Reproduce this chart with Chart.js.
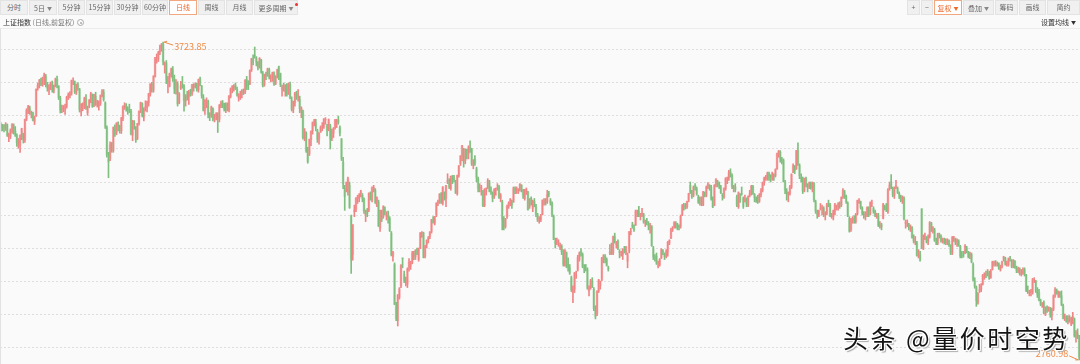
<!DOCTYPE html>
<html>
<head>
<meta charset="utf-8">
<script src="https://cdn.jsdelivr.net/npm/chart.js@4.4.0/dist/chart.umd.min.js"></script>
<style>
  body { margin: 0; width: 1080px; height: 364px; overflow: hidden; position: relative;
         background: #fafafa; font-family: "Noto Sans CJK SC", "Noto Sans", sans-serif; }
  #kline { position: absolute; left: 0; top: 0; }
  .btn { position: absolute; top: 0; height: 15px; box-sizing: border-box; font-size: 7px; line-height: 13px;
         color: #666; background: #f0f0f0; border: 1px solid #e3e3e3; text-align: center; white-space: nowrap; }
  .btn.on { background: #fff; border-color: #f2a77e; color: #ee6a2c; }
  .caret { font-size: 5px; color: #888; margin-left: 2px; vertical-align: 1px; }
  .on .caret { color: #ee6a2c; }
  .dot { position: absolute; left: 40px; top: 2px; width: 3px; height: 3px; border-radius: 2px; background: #f03030; }
  .info { position: absolute; top: 15px; font-size: 7px; line-height: 14px; color: #333; white-space: nowrap; }
  .gear { display: inline-block; width: 5px; height: 5px; border: 1px solid #aaa; border-radius: 50%;
          margin-left: 3px; vertical-align: -1px; position: relative; }
  .gear::after { content: ""; position: absolute; left: 1.5px; top: 1.5px; width: 2px; height: 2px; border-radius: 1px; background: #aaa; }
  .sep { position: absolute; left: 0; top: 28px; width: 1080px; height: 1px; background: #ececec; }
  .edge { position: absolute; left: 0; top: 28px; width: 1px; height: 336px; background: #e2e2e2; }
  .mark { position: absolute; left: 843px; top: 323px; font-size: 25px; line-height: 28px; letter-spacing: 2.5px;
          color: #141414; white-space: nowrap;
          text-shadow: -1px -1px 0 #fff, 1px -1px 0 #fff, -1px 1px 0 #fff, 1px 1px 0 #fff, 2px 2px 1px #aaa; }
</style>
</head>
<body>
<canvas id="kline" width="1080" height="364"></canvas>

<div class="btn" style="left:0;width:28px">分时</div>
<div class="btn" style="left:29px;width:28px">5日<span class="caret">▼</span></div>
<div class="btn" style="left:58px;width:27px">5分钟</div>
<div class="btn" style="left:86px;width:27px">15分钟</div>
<div class="btn" style="left:114px;width:27px">30分钟</div>
<div class="btn" style="left:142px;width:26px">60分钟</div>
<div class="btn on" style="left:169px;width:28px">日线</div>
<div class="btn" style="left:198px;width:27px">周线</div>
<div class="btn" style="left:226px;width:27px">月线</div>
<div class="btn" style="left:254px;width:44px">更多周期<span class="caret">▼</span><span class="dot"></span></div>

<div class="btn" style="left:907px;width:13px">+</div>
<div class="btn" style="left:921px;width:12px">−</div>
<div class="btn on" style="left:934px;width:28px">复权<span class="caret">▼</span></div>
<div class="btn" style="left:963px;width:31px">叠加<span class="caret">▼</span></div>
<div class="btn" style="left:995px;width:23px">筹码</div>
<div class="btn" style="left:1019px;width:27px">画线</div>
<div class="btn" style="left:1047px;width:33px">简约</div>

<div class="info" style="left:3px">上证指数 <span style="color:#777">(日线,前复权)</span><span class="gear"></span></div>
<div class="info" style="left:1041px">设置均线<span class="caret" style="color:#333">▼</span></div>
<div class="sep"></div>
<div class="edge"></div>
<div class="mark">头条 @量价时空势</div>

<script>
// 上证指数 daily candles, 2021-04-20 .. 2024-01-22 (one row per month)
const opens = [
  3474,3466,3470,3462,3474,3440,3438,3455,3470,
  3455,3440,3415,3410,3438,3442,3428,3490,3517,3524,3505,3509,3483,3500,3584,3592,3603,3596,
  3612,3620,3595,3578,3595,3598,3578,3592,3612,3590,3555,3520,3522,3520,3530,3556,3562,3568,3606,3604,3572,
  3592,3580,3512,3530,3528,3552,3510,3530,3546,3565,3530,3560,3535,3530,3538,3562,3572,3540,3465,3370,3370,3408,
  3395,3462,3450,3475,3464,3455,3492,3528,3530,3520,3520,3515,3442,3480,3460,3432,3478,3518,3537,3497,3524,3525,
  3540,3566,3595,3578,3620,3676,3672,3694,3704,3718,3655,3660,3602,3590,3630,3640,3612,3580,3598,3540,
  3584,3595,3590,3545,3560,3558,3570,3568,3590,3588,3593,3580,3612,3590,3558,3517,
  3545,3542,3505,3500,3522,3493,3498,3505,3490,3530,3540,3535,3518,3535,3518,3560,3580,3588,3592,3580,3555,3563,
  3565,3575,3572,3610,3600,3598,3640,3670,3685,3675,3660,3650,3670,3630,3595,3624,3622,3640,3615,3612,3630,3598,3620,
  3649,3628,3581,3588,3574,3592,3570,3595,3548,3520,3540,3565,3555,3550,3515,3515,3435,3448,3400,
  3385,3428,3455,3482,3480,3455,3430,3452,3465,3468,3488,3470,3460,3470,3432,3448,
  3465,3480,3488,3465,3430,3360,3280,3290,3270,3290,3195,3080,3210,3218,3250,3250,3265,3260,3248,3200,3210,3215,3262,
  3245,3275,3275,3230,3240,3160,3210,3195,3215,3195,3200,3190,3145,3075,3050,2925,2880,2950,2985,
  3070,3020,2995,2990,3040,3045,3055,3085,3073,3095,3065,3100,3145,3145,3075,3110,3125,3135,3150,
  3185,3175,3200,3235,3240,3260,3235,3265,3250,3300,3300,3280,3318,3312,3302,3265,3320,3355,3380,3400,3365,
  3395,3385,3405,3400,3350,3370,3340,3310,3280,3280,3270,3230,3270,3283,3300,3275,3265,3255,3275,3280,3285,
  3250,3240,3180,3165,3195,3225,3235,3240,3240,3280,3275,3275,3278,3290,3275,3250,3272,3270,3225,3250,3220,3240,3225,
  3200,3185,3185,3202,3240,3245,3240,3265,3245,3235,3195,3120,3118,3115,3100,3105,3085,3050,3085,3050,3040,
  3010,2965,2975,3015,3035,3065,3090,3080,3040,3040,3035,2970,2980,3000,2975,2910,
  2900,2970,2985,3005,3065,3075,3065,3040,3085,3090,3085,3135,3110,3120,3090,3085,3080,3095,3085,3060,3090,3150,
  3170,3160,3170,3205,3210,3195,3200,3200,3175,3180,3170,3160,3165,3100,3070,3075,3045,3050,3070,3090,3080,3075,
  3087,3115,3130,3155,3165,3175,3170,3165,3165,3200,3228,3225,3225,3245,3290,3265,
  3260,3290,3280,3255,3240,3250,3230,3265,3260,3285,3290,3285,3245,3230,3290,3300,3295,3285,3260,3255,
  3280,3305,3312,3330,3320,3280,3285,3255,3225,3260,3265,3250,3245,3245,3230,3260,3265,3285,3262,3250,3250,3242,3262,
  3275,3298,3310,3310,3325,3318,3312,3320,3320,3340,3385,3390,3368,3365,3300,3270,3262,3265,3285,
  3330,3345,3340,3395,3350,3315,3310,3275,3310,3290,3285,3295,3282,3295,3240,3210,3200,3220,3218,3220,
  3200,3205,3235,3230,3195,3195,3210,3225,3225,3235,3230,3255,3270,3255,3235,3190,3155,3185,3190,3180,
  3205,3242,3240,3220,3200,3195,3200,3220,3205,3235,3220,3210,3195,3200,3165,3170,3190,3225,3225,3210,3280,
  3295,3280,3260,3285,3280,3265,3255,3245,3250,3175,3175,3170,3160,3160,3130,3120,3115,3080,3080,3219,3100,3135,3130,
  3120,3135,3175,3150,3155,3120,3115,3140,3135,3125,3125,3115,3122,3120,3105,3085,3128,3125,3115,3120,
  3105,3080,3080,3085,3100,3085,3075,3080,3050,3000,2980,2935,2970,2975,2990,3015,3020,
  3020,3025,3010,3035,3055,3055,3050,3050,3035,3045,3065,3070,3050,3050,3068,3062,3045,3060,3038,3030,3035,3020,
  3025,3035,3018,2970,2965,2965,2965,3000,3000,2970,2965,2940,2928,2935,2898,2918,2912,2915,2895,2915,2955,
  2972,2958,2965,2955,2925,2888,2890,2875,2888,2870,2885,2885,2830,2840,2830
];
const highs = [
  3480,3475,3474,3480,3476,3448,3461,3477,3476,
  3468,3446,3432,3443,3463,3448,3491,3522,3532,3530,3515,3512,3500,3582,3600,3611,3615,3618,
  3630,3626,3602,3595,3603,3606,3594,3615,3621,3592,3560,3533,3532,3536,3560,3570,3574,3609,3616,3606,3597,
  3601,3584,3538,3540,3557,3565,3530,3550,3572,3567,3566,3572,3548,3546,3564,3580,3580,3543,3470,3390,3422,3420,
  3467,3473,3480,3482,3472,3496,3531,3540,3538,3528,3536,3520,3487,3486,3468,3478,3516,3542,3540,3525,3546,3545,
  3569,3598,3602,3622,3678,3688,3696,3715,3720,3723.85,3664,3668,3620,3630,3645,3650,3624,3610,3604,3571,
  3605,3620,3595,3565,3575,3578,3581,3596,3598,3601,3599,3612,3618,3593,3565,3550,
  3555,3548,3510,3530,3525,3505,3510,3510,3535,3545,3547,3539,3540,3540,3562,3585,3592,3595,3600,3588,3568,3575,
  3580,3582,3610,3620,3607,3640,3675,3685,3708.94,3680,3665,3677,3672,3635,3627,3633,3645,3645,3625,3633,3634,3622,3642,
  3651,3630,3594,3600,3595,3598,3600,3603,3558,3545,3572,3575,3580,3560,3528,3518,3462,3452,3405,
  3430,3455,3482,3490,3490,3460,3450,3470,3480,3492,3495,3475,3491,3475,3460,3465,
  3490,3490,3500,3470,3432,3375,3290,3300,3315,3300,3200,3171,3230,3253,3260,3265,3275,3265,3252,3215,3220,3267,3270,
  3285,3290,3280,3255,3245,3215,3215,3228,3225,3210,3212,3195,3150,3090,3055,2935,2959,2980,3050,
  3070,3030,3012,3040,3068,3060,3090,3090,3095,3100,3100,3147,3150,3148,3108,3125,3135,3150,3187,
  3195,3196,3237,3245,3265,3268,3286,3270,3290,3325,3310,3318,3320,3320,3305,3321,3350,3380,3411,3402,3400,
  3400,3410,3424.84,3402,3368,3380,3345,3315,3295,3290,3275,3280,3282,3310,3305,3285,3270,3280,3282,3295,3290,
  3265,3245,3195,3190,3230,3240,3250,3245,3285,3285,3285,3280,3295,3292,3278,3278,3282,3272,3250,3255,3245,3250,3232,
  3205,3195,3202,3246,3250,3250,3275,3272,3250,3240,3200,3130,3130,3125,3115,3110,3095,3095,3088,3070,3050,
  3015,2985,3026,3030,3078,3088,3098,3085,3050,3050,3040,2985,3005,3010,2980,2925,
  2970,3005,3000,3072,3080,3080,3070,3045,3110,3115,3136,3145,3120,3125,3095,3090,3098,3105,3105,3085,3150,3160,
  3178,3170,3215,3215,3226,3205,3220,3205,3185,3190,3180,3175,3168,3105,3080,3085,3060,3068,3098,3095,3085,3095,
  3120,3125,3160,3165,3180,3180,3175,3170,3200,3232,3235,3235,3242,3266,3300,3275,
  3288,3295,3285,3260,3255,3255,3272,3270,3288,3298,3292,3290,3255,3292,3310,3305,3300,3290,3265,3282,
  3313,3315,3335,3340,3325,3290,3295,3260,3270,3265,3285,3255,3260,3252,3258,3275,3290,3290,3265,3255,3260,3265,3280,
  3300,3315,3320,3330,3330,3322,3330,3325,3340,3388,3396,3395,3375,3370,3305,3280,3270,3290,3325,
  3355,3350,3396,3418.95,3355,3325,3315,3312,3315,3295,3300,3300,3300,3298,3245,3215,3215,3235,3230,3225,
  3210,3235,3245,3235,3205,3215,3235,3230,3238,3240,3255,3280,3275,3260,3240,3195,3190,3195,3198,3205,
  3245,3250,3242,3225,3210,3210,3225,3225,3240,3245,3225,3215,3205,3205,3180,3175,3235,3230,3235,3280,3300,
  3322.13,3285,3285,3305,3285,3270,3260,3258,3255,3185,3185,3175,3170,3165,3140,3135,3120,3095,3090,3219,3140,3145,3135,
  3140,3180,3178,3165,3160,3130,3145,3145,3140,3130,3130,3128,3128,3125,3110,3135,3135,3130,3128,3125,
  3108,3090,3090,3110,3105,3090,3088,3085,3055,3010,2985,2965,2990,2992,3020,3025,3030,
  3035,3030,3035,3060,3060,3062,3058,3055,3048,3060,3075,3072,3060,3070,3075,3065,3065,3062,3045,3042,3040,3035,
  3040,3040,3020,2985,2972,2975,3008,3010,3002,2980,2975,2945,2935,2940,2922,2925,2922,2920,2918,2958,2980,
  2976,2970,2968,2970,2930,2900,2895,2895,2895,2890,2905,2888,2850,2855,2835
];
const lows = [
  3455,3455,3452,3456,3438,3422,3431,3448,3445,
  3438,3408,3402,3390,3428,3418,3420,3486,3507,3505,3494,3485,3474,3499,3578,3585,3592,3590,
  3595,3588,3575,3565,3580,3572,3570,3588,3585,3550,3509,3510,3513,3505,3524,3550,3555,3563,3595,3568,3565,
  3578,3512,3500,3516,3522,3520,3502,3525,3540,3526,3528,3532,3527,3518,3532,3558,3545,3462,3375,3313,3365,3390,
  3390,3438,3443,3455,3448,3447,3486,3520,3515,3505,3510,3443,3425,3460,3420,3428,3472,3510,3497,3485,3515,3512,
  3530,3560,3572,3572,3618,3660,3665,3686,3696,3655,3630,3598,3570,3588,3618,3605,3568,3566,3530,3537,
  3580,3584,3515,3530,3548,3535,3560,3562,3575,3585,3575,3572,3592,3554,3515,3505,
  3525,3494,3486,3496,3485,3482,3488,3450,3482,3525,3525,3515,3510,3515,3512,3555,3570,3575,3580,3560,3545,3550,
  3555,3565,3568,3580,3580,3595,3635,3655,3675,3652,3640,3645,3630,3588,3590,3610,3620,3612,3603,3605,3593,3595,3615,
  3610,3589,3560,3575,3560,3560,3565,3552,3515,3510,3530,3550,3545,3510,3495,3430,3425,3390,3357,
  3380,3410,3445,3470,3455,3420,3415,3450,3455,3462,3475,3440,3455,3400,3425,3435,
  3460,3465,3475,3440,3365,3280,3214,3270,3260,3220,3023.3,3063,3195,3210,3235,3240,3255,3240,3205,3180,3195,3210,3245,
  3240,3270,3235,3225,3165,3150,3180,3190,3200,3185,3175,3150,3076,3060,2928,2880,2863.65,2945,2980,
  3040,2995,2985,2980,3030,3035,3052,3065,3065,3080,3060,3098,3132,3070,3070,3100,3115,3128,3145,
  3175,3170,3195,3228,3235,3235,3230,3245,3225,3295,3280,3275,3295,3300,3265,3260,3315,3350,3365,3345,3355,
  3370,3370,3390,3350,3340,3350,3300,3270,3270,3260,3225,3225,3260,3280,3270,3262,3240,3250,3260,3275,3250,
  3240,3155,3155,3160,3190,3220,3228,3220,3238,3265,3265,3265,3272,3270,3250,3245,3262,3215,3220,3230,3210,3225,3195,
  3180,3175,3180,3200,3230,3230,3235,3255,3230,3195,3125,3100,3110,3105,3095,3080,3045,3045,3040,3030,3020,
  2968,2934,2965,3008,3030,3060,3075,3040,3025,3030,2975,2955,2975,2980,2910,2885.09,
  2895,2965,2975,3000,3055,3055,3045,3030,3080,3080,3080,3115,3100,3095,3070,3075,3065,3085,3080,3040,3085,3140,
  3160,3150,3168,3195,3195,3185,3195,3175,3165,3170,3155,3145,3105,3065,3060,3050,3040,3045,3068,3080,3065,3070,
  3075,3110,3128,3150,3160,3160,3155,3155,3160,3198,3215,3218,3220,3240,3265,3250,
  3255,3275,3260,3235,3230,3228,3228,3255,3255,3280,3275,3245,3222,3228,3285,3285,3280,3265,3245,3250,
  3275,3295,3305,3315,3280,3270,3270,3225,3220,3238,3260,3220,3240,3225,3225,3255,3260,3262,3240,3238,3235,3238,3255,
  3270,3290,3305,3305,3305,3300,3305,3305,3315,3338,3375,3360,3355,3300,3265,3245,3240,3260,3280,
  3328,3325,3338,3350,3310,3300,3265,3270,3285,3270,3280,3278,3270,3240,3205,3190,3195,3215,3200,3195,
  3185,3200,3225,3195,3190,3185,3200,3215,3215,3220,3225,3250,3250,3235,3195,3148,3150,3175,3175,3175,
  3200,3235,3218,3200,3190,3185,3195,3195,3200,3225,3205,3195,3190,3165,3160,3155,3188,3215,3210,3205,3275,
  3280,3255,3250,3280,3265,3250,3240,3235,3185,3160,3165,3155,3150,3130,3115,3110,3075,3070,3060,3098,3095,3125,3115,
  3110,3130,3150,3145,3120,3110,3110,3130,3118,3115,3112,3110,3110,3105,3080,3080,3120,3110,3105,3105,
  3070,3070,3072,3083,3085,3070,3068,3055,3000,2978,2923,2930,2965,2968,2988,3005,3010,
  3015,3005,3008,3033,3045,3045,3045,3035,3030,3040,3060,3048,3045,3045,3060,3040,3040,3038,3025,3025,3018,3015,
  3020,3015,2968,2962,2955,2955,2960,2995,2965,2950,2940,2925,2920,2900,2895,2905,2908,2890,2882,2910,2950,
  2960,2950,2950,2925,2885,2880,2875,2870,2875,2865,2870,2830,2815,2825,2760.98
];
const closes = [
  3472,3465,3468,3474,3441,3442,3457,3474,3447,
  3441,3419,3428,3441,3462,3429,3490,3517,3529,3510,3507,3487,3497,3581,3593,3608,3600,3615,
  3625,3597,3584,3592,3600,3580,3591,3611,3590,3556,3518,3525,3525,3530,3557,3566,3566,3607,3607,3574,3591,
  3588,3519,3534,3530,3553,3525,3525,3548,3567,3529,3565,3540,3539,3537,3562,3575,3550,3467,3382,3361,3412,3397,
  3465,3447,3478,3466,3458,3494,3529,3532,3524,3517,3518,3446,3485,3465,3427,3477,3515,3540,3501,3522,3528,3544,
  3567,3597,3581,3621,3677,3676,3693,3703,3716,3663,3656,3608,3614,3628,3643,3613,3582,3602,3537,3568,
  3592,3591,3547,3562,3558,3572,3569,3594,3588,3595,3583,3610,3598,3562,3518,3547,
  3545,3505,3499,3527,3492,3499,3507,3492,3532,3539,3533,3521,3537,3520,3561,3582,3590,3593,3584,3564,3562,3564,
  3577,3573,3608,3590,3596,3638,3674,3667,3682,3662,3648,3675,3633,3593,3626,3623,3643,3618,3616,3631,3597,3620,3640,
  3633,3595,3586,3580,3594,3567,3597,3555,3521,3542,3569,3558,3555,3522,3524,3434,3455,3394,3361,
  3430,3453,3480,3486,3463,3429,3447,3466,3469,3491,3490,3457,3489,3430,3451,3462,
  3488,3485,3482,3448,3372,3294,3256,3296,3310,3223,3064,3171,3215,3251,3254,3260,3271,3250,3212,3214,3203,3266,3252,
  3283,3284,3237,3252,3167,3214,3187,3226,3211,3195,3195,3152,3080,3087,2929,2887,2958,2976,3047,
  3068,3001,3004,3036,3058,3054,3084,3073,3093,3086,3096,3146,3147,3071,3107,3123,3131,3149,3186,
  3182,3195,3236,3241,3263,3239,3285,3256,3289,3305,3285,3317,3315,3307,3267,3320,3350,3379,3410,3361,3399,
  3388,3405,3404,3356,3364,3356,3314,3281,3284,3282,3228,3278,3279,3305,3272,3270,3251,3277,3275,3282,3253,
  3260,3186,3164,3189,3227,3236,3247,3230,3282,3277,3277,3278,3293,3278,3258,3277,3277,3216,3246,3236,3240,3228,3202,
  3185,3186,3200,3244,3246,3236,3262,3263,3237,3200,3126,3115,3122,3117,3108,3088,3051,3093,3045,3041,3024,
  2974,2980,3025,3016,3071,3084,3081,3044,3036,3039,2978,2977,3000,2983,2916,2893,
  2970,3003,2998,3070,3077,3065,3048,3036,3087,3084,3135,3120,3115,3098,3086,3088,3097,3089,3102,3079,3150,3151,
  3165,3156,3212,3212,3199,3197,3206,3179,3176,3177,3168,3167,3107,3073,3069,3054,3046,3066,3095,3087,3074,3089,
  3117,3123,3155,3158,3177,3170,3162,3164,3196,3228,3225,3224,3241,3265,3270,3256,
  3285,3285,3263,3239,3248,3232,3270,3261,3285,3294,3281,3249,3225,3290,3307,3291,3288,3267,3258,3280,
  3312,3310,3329,3322,3286,3284,3276,3230,3268,3245,3264,3226,3251,3234,3256,3265,3287,3265,3252,3245,3240,3261,3273,
  3296,3312,3312,3327,3315,3315,3327,3318,3338,3386,3393,3370,3367,3301,3275,3264,3265,3285,3323,
  3350,3334,3395,3357,3319,3310,3272,3311,3290,3284,3297,3284,3296,3246,3212,3201,3212,3221,3224,3205,
  3204,3231,3233,3197,3198,3213,3231,3228,3234,3229,3253,3274,3255,3241,3197,3151,3189,3190,3182,3202,
  3244,3245,3223,3205,3197,3204,3222,3197,3237,3237,3210,3198,3199,3169,3168,3164,3231,3223,3216,3276,3291,
  3290,3261,3280,3288,3268,3260,3244,3254,3189,3178,3176,3163,3163,3131,3121,3120,3078,3082,3064,3098,3135,3137,3119,
  3133,3177,3155,3158,3123,3117,3143,3137,3122,3126,3117,3125,3124,3109,3085,3132,3130,3116,3124,3110,
  3076,3076,3079,3107,3088,3074,3084,3059,3005,2984,2940,2962,2974,2988,3018,3021,3019,
  3023,3009,3030,3058,3057,3052,3053,3038,3046,3057,3073,3051,3054,3068,3067,3044,3062,3041,3032,3038,3022,3030,
  3032,3023,2972,2969,2966,2970,3004,3003,2969,2958,2942,2930,2932,2903,2918,2915,2919,2898,2915,2955,2975,
  2962,2967,2954,2929,2887,2893,2877,2886,2882,2886,2893,2834,2845,2833,2770
];
// one category per trading day
const days = closes.map((c, i) => i + 1);
// dotted price grid, every 100 points
const gridLevels = [2800, 2900, 3000, 3100, 3200, 3300, 3400, 3500, 3600, 3700];

const UP_LINE = '#ef8686', UP_BODY = '#f8c7c7';
const DOWN_LINE = '#7fbe7f', DOWN_BODY = '#c6e3c6';
const isUp = (i) => closes[i] >= opens[i];

// max / min price tags, like the trading software shows them
const extremeTags = {
  id: 'extremeTags',
  afterDatasetsDraw(chart) {
    const { ctx, scales: { x, y } } = chart;
    const hi = highs.indexOf(Math.max(...highs));
    const lo = lows.indexOf(Math.min(...lows));
    ctx.save();
    ctx.strokeStyle = '#f08a45';
    ctx.fillStyle = '#f08a45';
    ctx.lineWidth = 1;
    ctx.font = '9px "Noto Sans CJK SC", sans-serif';
    ctx.textBaseline = 'middle';

    let px = x.getPixelForValue(hi), py = y.getPixelForValue(highs[hi]);
    ctx.beginPath();
    ctx.moveTo(px + 1, py);
    ctx.lineTo(px + 10, py + 3);
    ctx.moveTo(px + 1, py);
    ctx.lineTo(px + 4, py - 1);
    ctx.stroke();
    ctx.textAlign = 'left';
    ctx.fillText(highs[hi].toFixed(2), px + 11, py + 4);

    px = x.getPixelForValue(lo);
    py = y.getPixelForValue(lows[lo]);
    ctx.beginPath();
    ctx.moveTo(px - 1, py);
    ctx.lineTo(px - 10, py - 4);
    ctx.moveTo(px - 1, py);
    ctx.lineTo(px - 4, py);
    ctx.stroke();
    ctx.textAlign = 'right';
    ctx.fillText(lows[lo].toFixed(2), px - 11, py - 6);
    ctx.restore();
  }
};

new Chart(document.getElementById('kline'), {
  type: 'bar',
  data: {
    labels: days,
    datasets: [
      {
        label: 'shadow',
        data: lows.map((l, i) => [l, highs[i]]),
        backgroundColor: days.map((d, i) => isUp(i) ? UP_LINE : DOWN_LINE),
        barThickness: 1,
        grouped: false,
        order: 0,
      },
      {
        label: 'body',
        data: opens.map((o, i) => [o, closes[i]]),
        backgroundColor: days.map((d, i) => isUp(i) ? UP_BODY : DOWN_BODY),
        barThickness: 2,
        grouped: false,
        order: 1,
      },
    ],
  },
  options: {
    responsive: false,
    animation: false,
    devicePixelRatio: 1,
    layout: { padding: 0 },
    plugins: {
      legend: { display: false },
      tooltip: { enabled: false },
    },
    scales: {
      x: { display: false, offset: true },
      y: {
        position: 'right',
        min: 2748.5,
        max: 3851.5,
        afterBuildTicks: (axis) => { axis.ticks = gridLevels.map(v => ({ value: v })); },
        ticks: { display: false },
        grid: { color: '#dedede', lineWidth: 1, drawTicks: false },
        border: { display: false, dash: [2, 2] },
      },
    },
  },
  plugins: [extremeTags],
});
</script>
</body>
</html>
